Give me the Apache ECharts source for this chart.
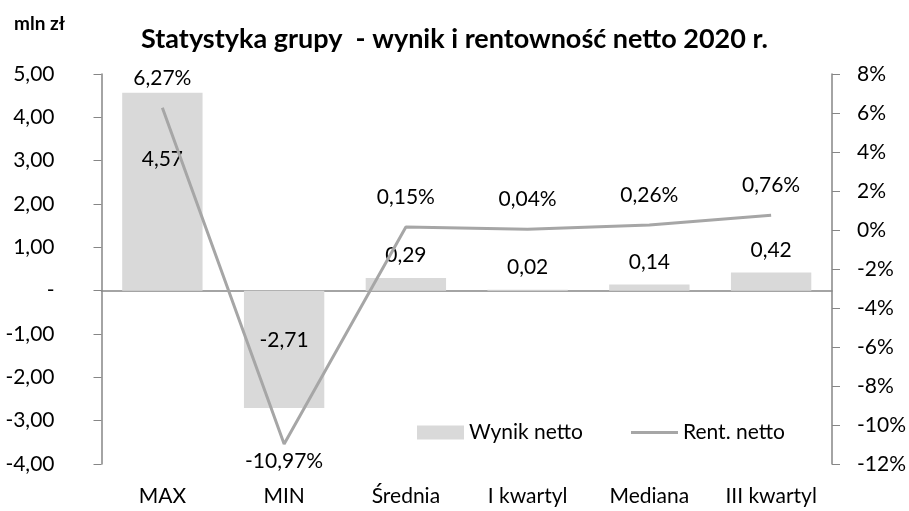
<!DOCTYPE html>
<html>
<head>
<meta charset="utf-8">
<script src="https://cdn.jsdelivr.net/npm/echarts@6/dist/echarts.min.js"></script>
<style>
  html, body { margin: 0; padding: 0; background: #fff; }
  #chart { width: 909px; height: 511px; }
</style>
</head>
<body>
<div id="chart"></div>
<script>
var categories = ["MAX", "MIN", "Średnia", "I kwartyl", "Mediana", "III kwartyl"];
var wynikNetto = [4.57, -2.71, 0.29, 0.02, 0.14, 0.42];
var rentNetto = [6.27, -10.97, 0.15, 0.04, 0.26, 0.76];

var fontFam = "Lato, 'Open Sans', sans-serif";
var fs = 21;

function pl(v, d) {
  return v.toFixed(d).replace(".", ",");
}

var myChart = echarts.init(document.getElementById("chart"));

// bar labels: the two big ones sit inside the bar
var barData = wynikNetto.map(function (v, i) {
  var item = { value: v };
  if (i === 0) item.label = { position: "inside", offset: [0, -32] };
  else if (i === 1) item.label = { position: "inside", offset: [0, -9] };
  return item;
});
var lineData = rentNetto.map(function (v) {
  var item = { value: v };
  if (v < -5) item.label = { position: "bottom", distance: 7 };
  return item;
});

var option = {
  animation: false,
  textStyle: { fontFamily: fontFam },
  title: [
    {
      text: "mln zł",
      left: 9,
      top: 9,
      textStyle: { fontSize: 19, fontWeight: "bold", color: "#000", fontFamily: fontFam },
    },
    {
      text: "Statystyka grupy  - wynik i rentowność netto 2020 r.",
      left: "center",
      top: 21,
      textStyle: { fontSize: 27, fontWeight: "bold", color: "#000", fontFamily: fontFam },
    },
  ],
  legend: {
    left: 412,
    top: 417,
    itemGap: 48,
    itemWidth: 47,
    itemHeight: 14,
    textStyle: { fontSize: fs, color: "#000", fontFamily: fontFam },
    data: [
      { name: "Wynik netto", icon: "rect" },
      { name: "Rent. netto", icon: "path://M0,0L47,0L47,3L0,3Z" },
    ],
  },
  grid: {
    left: 101.5,
    right: 77,
    top: 74,
    bottom: 47,
  },
  xAxis: [
    {
      type: "category",
      data: categories,
      position: "bottom",
      axisLine: { show: false, onZero: false },
      axisTick: { show: false },
      axisLabel: { fontSize: fs, color: "#000", margin: 22, fontFamily: fontFam },
    },
    {
      type: "category",
      data: categories,
      position: "top",
      axisLine: { onZero: true, onZeroAxisIndex: 0, lineStyle: { color: "#868686", width: 1.5 } },
      axisTick: { inside: true, length: 6, lineStyle: { color: "#868686" } },
      axisLabel: { show: false },
    },
  ],
  yAxis: [
    {
      type: "value",
      min: -4,
      max: 5,
      interval: 1,
      splitLine: { show: false },
      axisLine: { show: true, lineStyle: { color: "#868686", width: 1.5 } },
      axisTick: { show: true, length: 8, lineStyle: { color: "#868686" } },
      axisLabel: {
        fontSize: fs,
        color: "#000",
        margin: 47,
        fontFamily: fontFam,
        formatter: function (v) {
          return v === 0 ? "-" : pl(v, 2);
        },
      },
    },
    {
      type: "value",
      min: -12,
      max: 8,
      interval: 2,
      splitLine: { show: false },
      axisLine: { show: true, lineStyle: { color: "#868686", width: 1.5 } },
      axisTick: { show: true, length: 8, lineStyle: { color: "#868686" } },
      axisLabel: {
        fontSize: fs,
        color: "#000",
        margin: 25,
        fontFamily: fontFam,
        formatter: "{value}%",
      },
    },
  ],
  series: [
    {
      name: "Wynik netto",
      type: "bar",
      xAxisIndex: 0,
      yAxisIndex: 0,
      barWidth: "66%",
      itemStyle: { color: "#d9d9d9" },
      label: {
        show: true,
        position: "top",
        distance: 12,
        fontSize: fs,
        color: "#000",
        fontFamily: fontFam,
        formatter: function (p) {
          return pl(p.value, 2);
        },
      },
      data: barData,
    },
    {
      name: "Rent. netto",
      type: "line",
      xAxisIndex: 0,
      yAxisIndex: 1,
      symbol: "circle",
      symbolSize: 0.1,
      showSymbol: true,
      lineStyle: { color: "#a6a6a6", width: 3 },
      itemStyle: { color: "#a6a6a6" },
      label: {
        show: true,
        position: "top",
        distance: 19,
        fontSize: fs,
        color: "#000",
        fontFamily: fontFam,
        formatter: function (p) {
          return pl(p.value, 2) + "%";
        },
      },
      data: lineData,
    },
  ],
};
myChart.setOption(option);
</script>
</body>
</html>
